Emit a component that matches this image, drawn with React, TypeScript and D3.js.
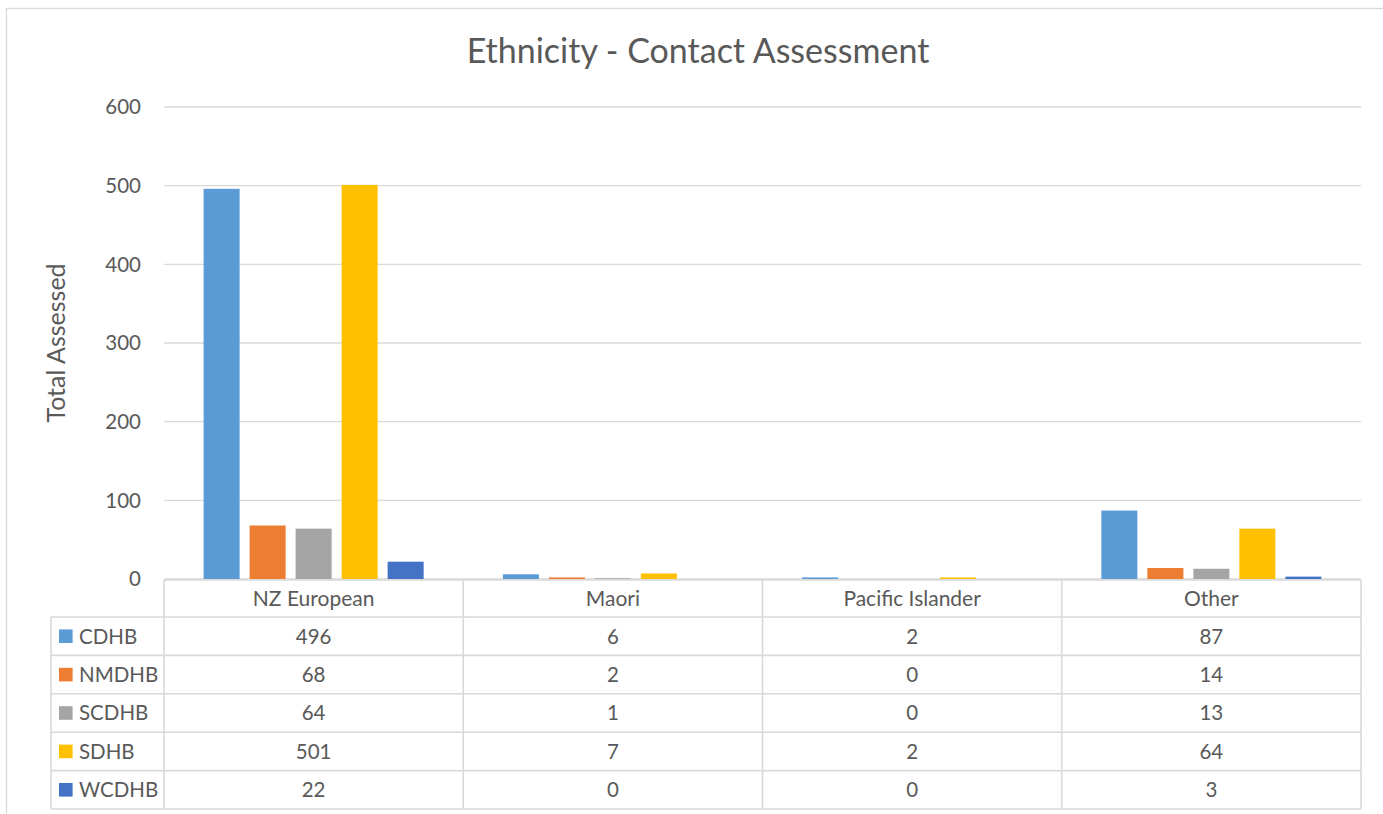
import React from "react";
import * as d3 from "d3";

const categories = ["NZ European", "Maori", "Pacific Islander", "Other"];
const seriesNames = ["CDHB", "NMDHB", "SCDHB", "SDHB", "WCDHB"];
const seriesColors = ["#5B9BD5", "#ED7D31", "#A5A5A5", "#FFC000", "#4472C4"];
const cdhb = [496, 6, 2, 87];
const nmdhb = [68, 2, 0, 14];
const scdhb = [64, 1, 0, 13];
const sdhb = [501, 7, 2, 64];
const wcdhb = [22, 0, 0, 3];
const yTicks = [0, 100, 200, 300, 400, 500, 600];
const title = "Ethnicity - Contact Assessment";
const yTitle = "Total Assessed";

const seriesValues = [cdhb, nmdhb, scdhb, sdhb, wcdhb];

const W = 1383;
const H = 814;
const FONT = "Lato, 'Open Sans', sans-serif";
const TXT = "#595959";
const GRID = "#d9d9d9";

export default function App() {
  const plotLeft = 164;
  const plotRight = 1361;
  const plotTop = 107;
  const plotBottom = 579;
  const headerH = 37;
  const rowH = 38.4;
  const legendLeft = 51;

  const x = d3.scaleBand<string>().domain(categories).range([plotLeft, plotRight]).paddingInner(0).paddingOuter(0);
  const xs = d3
    .scaleBand<string>()
    .domain(seriesNames)
    .range([0, x.bandwidth()])
    .paddingInner(0.217)
    .paddingOuter(0.861);
  const y = d3.scaleLinear().domain([0, 600]).range([plotBottom, plotTop]);

  const tableTop = plotBottom + 1;
  const rowsTop = tableTop + headerH;
  const tableBottom = rowsTop + rowH * seriesNames.length;

  return (
    <svg
      width={W}
      height={H}
      style={{ position: "absolute", left: 0, top: 0, display: "block", background: "#fff" }}
      fontFamily={FONT}
    >
      <rect x={0} y={0} width={W} height={H} fill="#fff" />
      <rect x={6.5} y={8.5} width={1384} height={900} fill="#fff" stroke={GRID} strokeWidth={1.3} />
      <text x={698} y={63} textAnchor="middle" fontSize={34} fill={TXT}>
        {title}
      </text>
      {/* gridlines */}
      {yTicks.map((t) => (
        <line key={t} x1={plotLeft} x2={plotRight} y1={y(t)} y2={y(t)} stroke={GRID} strokeWidth={1.3} />
      ))}
      {yTicks.map((t) => (
        <text key={"l" + t} x={141} y={y(t)} dy="0.36em" textAnchor="end" fontSize={20.5} fill={TXT}>
          {t}
        </text>
      ))}
      <text
        transform={`translate(65,343) rotate(-90)`}
        textAnchor="middle"
        fontSize={25}
        fill={TXT}
      >
        {yTitle}
      </text>
      {/* bars */}
      {seriesNames.map((s, si) =>
        categories.map((c, ci) => {
          const v = seriesValues[si][ci];
          const bx = (x(c) as number) + (xs(s) as number);
          return (
            <rect
              key={s + c}
              x={bx}
              y={y(v)}
              width={xs.bandwidth()}
              height={plotBottom - y(v)}
              fill={seriesColors[si]}
            />
          );
        })
      )}
      {/* data table */}
      <g stroke={GRID} strokeWidth={1.6} fill="none">
        <line x1={plotLeft} x2={plotRight} y1={tableTop} y2={tableTop} />
        {seriesNames.map((s, i) => (
          <line key={"h" + s} x1={legendLeft} x2={plotRight} y1={rowsTop + rowH * i} y2={rowsTop + rowH * i} />
        ))}
        <line x1={legendLeft} x2={plotRight} y1={tableBottom} y2={tableBottom} />
        <line x1={legendLeft} x2={legendLeft} y1={rowsTop} y2={tableBottom} />
        {categories.map((c) => (
          <line key={"v" + c} x1={x(c)} x2={x(c)} y1={tableTop} y2={tableBottom} />
        ))}
        <line x1={plotRight} x2={plotRight} y1={tableTop} y2={tableBottom} />
      </g>
      {categories.map((c) => (
        <text
          key={"c" + c}
          x={(x(c) as number) + x.bandwidth() / 2}
          y={tableTop + headerH / 2}
          dy="0.36em"
          textAnchor="middle"
          fontSize={21}
          fill={TXT}
        >
          {c}
        </text>
      ))}
      {seriesNames.map((s, si) => {
        const cy = rowsTop + rowH * si + rowH / 2;
        return (
          <g key={"r" + s}>
            <rect x={59} y={cy - 6.8} width={13.6} height={13.6} fill={seriesColors[si]} />
            <text x={79} y={cy} dy="0.36em" fontSize={20.5} fill={TXT}>
              {s}
            </text>
            {categories.map((c, ci) => (
              <text
                key={s + c}
                x={(x(c) as number) + x.bandwidth() / 2}
                y={cy}
                dy="0.36em"
                textAnchor="middle"
                fontSize={20.5}
                fill={TXT}
              >
                {seriesValues[si][ci]}
              </text>
            ))}
          </g>
        );
      })}
    </svg>
  );
}
